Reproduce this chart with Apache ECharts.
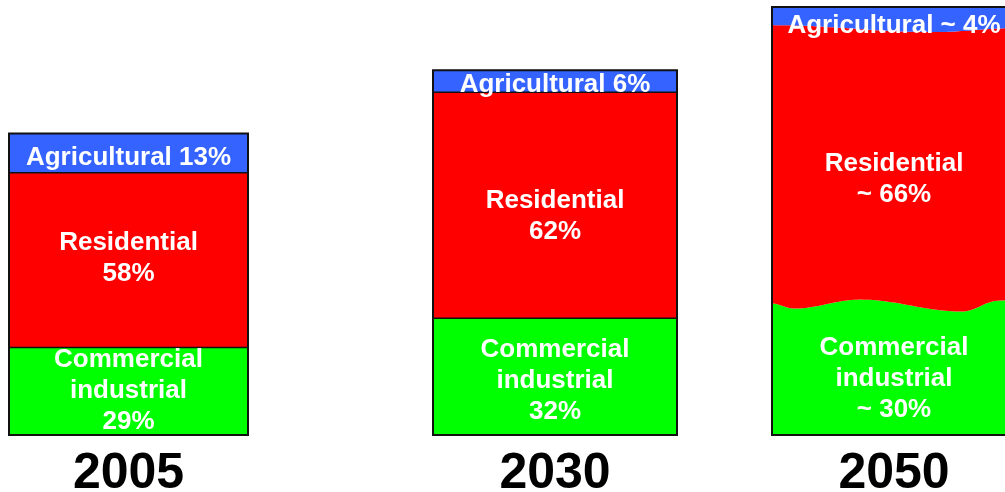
<!DOCTYPE html>
<html>
<head>
<meta charset="utf-8">
<script src="https://cdn.jsdelivr.net/npm/echarts@6/dist/echarts.min.js"></script>
<style>
  html, body { margin: 0; padding: 0; background: #ffffff; }
  #chart { width: 1005px; height: 492px; }
</style>
</head>
<body>
<div id="chart"></div>
<script>
// Electricity use by sector in three snapshot years
const years = ['2005', '2030', '2050'];
// Total use as a relative index (2005 = 100)
const totals = [100, 121, 142];
// Sector shares, percent of each year's total
const commercialShare = [29, 32, 30];
const residentialShare = [58, 62, 66];
const agriculturalShare = [13, 6, 4];
// Projected shares that are only approximate ("~", ragged edges)
const approximate = [false, false, true];

// ---- layout ----
const FONT = '"Liberation Sans", Arial, Helvetica, sans-serif';
const barLeft = [9, 433, 772];
const barWidth = [239, 244, 244];
const plotTop = 7;
const plotBottom = 57;
// small vertical nudges (px) for the in-bar labels
const agriNudge = [5, 4, 10];
const resNudge = [-2, 11, 14];
const commNudge = [0, 4, 8];
// ragged-edge profiles for approximate bars: [fraction across bar, px offset]
const lowerEdge = [[0, -3], [0.09, 2], [0.36, -7], [0.78, 5], [0.93, -6], [1, -7]];
const upperEdge = [[0, 1], [0.66, 8], [1, 4]];

const COLORS = { comm: '#00ff00', res: '#ff0000', agri: '#3463ff', line: '#111111' };

function edgePoints(xL, xR, y, profile) {
  if (!profile) return [[xL, y], [xR, y]];
  const pts = [];
  const n = 80;
  for (let k = 0; k <= n; k++) {
    const t = k / n;
    let j = 0;
    while (j < profile.length - 2 && t > profile[j + 1][0]) j++;
    const [t0, d0] = profile[j];
    const [t1, d1] = profile[j + 1];
    const u = (t - t0) / (t1 - t0);
    const w = (1 - Math.cos(Math.PI * Math.min(1, Math.max(0, u)))) / 2;
    pts.push([xL + t * (xR - xL), y + d0 + (d1 - d0) * w]);
  }
  return pts;
}

function label(text, x, y) {
  return {
    type: 'text', x: x, y: y, silent: true,
    style: {
      text: text, fill: '#ffffff', fontSize: 26, fontWeight: 'bold',
      fontFamily: FONT, align: 'center', verticalAlign: 'middle', lineHeight: 31
    }
  };
}

function pct(i, v) { return (approximate[i] ? '~ ' : '') + v + '%'; }

function renderItem(params, api) {
  const i = params.seriesIndex;
  const cs = params.coordSys;
  const xL = cs.x, xR = cs.x + cs.width, xC = (xL + xR) / 2;
  const c = api.value(1), r = api.value(2), a = api.value(3);
  const yBase = api.coord([0, 0])[1];
  const yCR = api.coord([0, c])[1];
  const yRA = api.coord([0, c + r])[1];
  const yTop = api.coord([0, c + r + a])[1];
  const ragged = approximate[i];
  const lower = edgePoints(xL, xR, yCR, ragged ? lowerEdge : null);
  const upper = edgePoints(xL, xR, yRA, ragged ? upperEdge : null);

  const children = [
    { type: 'polygon', shape: { points: [[xL, yBase], [xR, yBase]].concat(lower.slice().reverse()) },
      style: { fill: COLORS.comm } },
    { type: 'polygon', shape: { points: lower.concat(upper.slice().reverse()) },
      style: { fill: COLORS.res } },
    { type: 'polygon', shape: { points: upper.concat([[xR, yTop], [xL, yTop]]) },
      style: { fill: COLORS.agri } }
  ];
  if (!ragged) {
    children.push(
      { type: 'polyline', shape: { points: lower }, style: { stroke: COLORS.line, lineWidth: 1.5, fill: 'none' } },
      { type: 'polyline', shape: { points: upper }, style: { stroke: COLORS.line, lineWidth: 1.5, fill: 'none' } }
    );
  }
  children.push({
    type: 'rect', shape: { x: xL, y: yTop, width: xR - xL, height: yBase - yTop },
    style: { fill: 'none', stroke: COLORS.line, lineWidth: 2 }
  });
  children.push(
    label('Agricultural ' + pct(i, agriculturalShare[i]), xC, (yTop + yRA) / 2 + agriNudge[i]),
    label('Residential\n' + pct(i, residentialShare[i]), xC, (yRA + yCR) / 2 + resNudge[i]),
    label('Commercial\nindustrial\n' + pct(i, commercialShare[i]), xC, (yCR + yBase) / 2 + commNudge[i])
  );
  return { type: 'group', children: children };
}

const yMax = Math.max.apply(null, totals);

const option = {
  backgroundColor: '#ffffff',
  animation: false,
  grid: years.map((y, i) => ({
    left: barLeft[i], width: barWidth[i], top: plotTop, bottom: plotBottom,
    containLabel: false, outerBoundsMode: 'none'
  })),
  xAxis: years.map((y, i) => ({
    type: 'category', gridIndex: i, data: [y],
    axisLine: { show: false }, axisTick: { show: false }, splitLine: { show: false },
    axisLabel: { fontSize: 50, fontWeight: 'bold', color: '#000000', fontFamily: FONT, margin: 14 }
  })),
  yAxis: years.map((y, i) => ({ type: 'value', gridIndex: i, min: 0, max: yMax, show: false })),
  series: years.map((y, i) => ({
    type: 'custom', xAxisIndex: i, yAxisIndex: i, silent: true, clip: false,
    renderItem: renderItem,
    data: [[0,
      totals[i] * commercialShare[i] / 100,
      totals[i] * residentialShare[i] / 100,
      totals[i] * agriculturalShare[i] / 100]]
  }))
};

echarts.init(document.getElementById('chart'), null, { renderer: 'canvas' }).setOption(option);
</script>
</body>
</html>
